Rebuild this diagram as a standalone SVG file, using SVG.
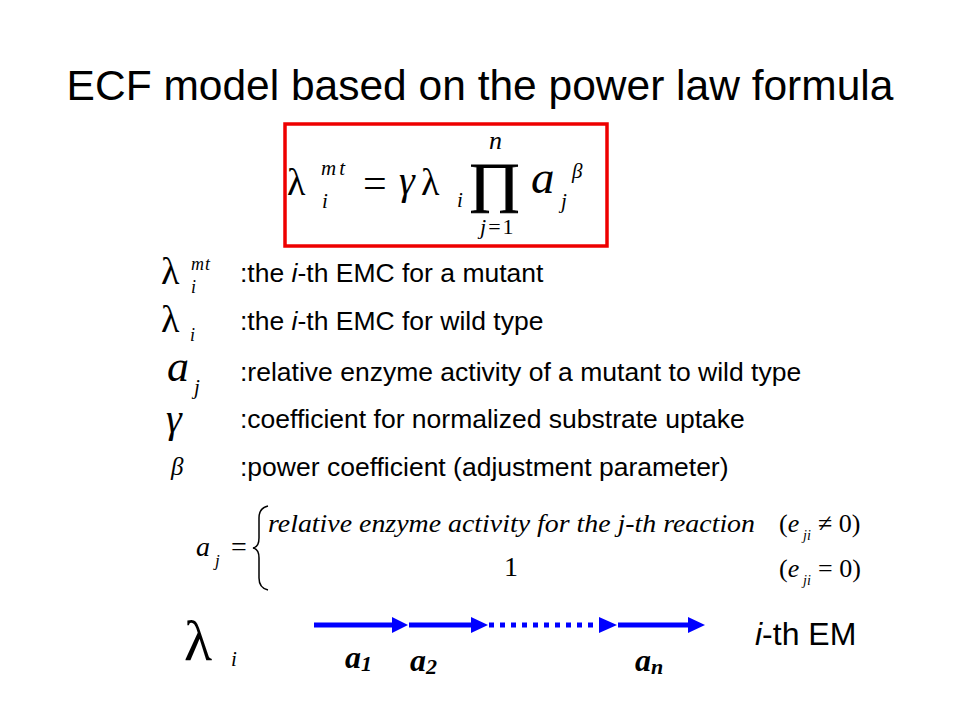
<svg xmlns="http://www.w3.org/2000/svg" width="960" height="720" viewBox="0 0 960 720">
<defs>
<style>
.sans{font-family:"Liberation Sans",Arial,sans-serif;fill:#000}
.ser{font-family:"Liberation Serif","Times New Roman",serif;fill:#000}
.it{font-style:italic}
.leg{font-size:26.5px}
.arr{stroke:#0000ff;stroke-width:5;fill:none}
.head{fill:#0000ff}
</style>
</defs>
<rect width="960" height="720" fill="#ffffff"/>
<g id="title">
<text class="sans" x="480" y="100" font-size="42.5" text-anchor="middle">ECF model based on the power law formula</text>
</g>
<g id="formula">
<rect x="285" y="124" width="322" height="122" fill="none" stroke="#ee0000" stroke-width="3.5"/>
<text class="ser" x="287" y="195" font-size="38">λ</text>
<text class="ser it" x="321" y="175" font-size="21" letter-spacing="3">mt</text>
<text class="ser it" x="322" y="208" font-size="21">i</text>
<text class="ser" x="363" y="197" font-size="42">=</text>
<text class="ser it" x="399" y="194" font-size="40">γ</text>
<text class="ser" x="421" y="195" font-size="38">λ</text>
<text class="ser it" x="457" y="207" font-size="21">i</text>
<text class="ser" transform="translate(468,201) scale(1.17,1)" font-size="55" stroke="#000" stroke-width="1">∏</text>
<text class="ser it" x="489" y="149" font-size="26">n</text>
<text class="ser" x="480" y="234" font-size="22" letter-spacing="2"><tspan class="it">j</tspan>=1</text>
<text class="ser it" x="531" y="193" font-size="47">a</text>
<text class="ser it" x="561" y="208" font-size="21">j</text>
<text class="ser it" x="572" y="178" font-size="21">β</text>
</g>
<g id="legend">
<text class="ser" x="161" y="284" font-size="38">λ</text>
<text class="ser it" x="191" y="270" font-size="18" letter-spacing="1">mt</text>
<text class="ser it" x="191" y="293" font-size="18">i</text>
<text class="sans leg" x="240" y="282">:the <tspan class="it">i</tspan>-th EMC for a mutant</text>
<text class="ser" x="161" y="332" font-size="38">λ</text>
<text class="ser it" x="190" y="341" font-size="18">i</text>
<text class="sans leg" x="240" y="330">:the <tspan class="it">i</tspan>-th EMC for wild type</text>
<text class="ser it" x="167" y="381" font-size="44">a</text>
<text class="ser it" x="194" y="394" font-size="21">j</text>
<text class="sans leg" x="240" y="381">:relative enzyme activity of a mutant to wild type</text>
<text class="ser it" x="166" y="432" font-size="40">γ</text>
<text class="sans leg" x="240" y="428">:coefficient for normalized substrate uptake</text>
<text class="ser it" x="171" y="475" font-size="25">β</text>
<text class="sans leg" x="240" y="476">:power coefficient (adjustment parameter)</text>
</g>
<g id="piecewise">
<text class="ser it" x="196" y="556" font-size="28">a</text>
<text class="ser it" x="215" y="566" font-size="17">j</text>
<text class="ser" x="231" y="556" font-size="28">=</text>
<path d="M268,506 Q259,508 259,518 L259,538 Q259,547 253,548 Q259,549 259,558 L259,578 Q259,588 268,590" fill="none" stroke="#000" stroke-width="1.5"/>
<text class="ser it" x="268" y="532" font-size="26" textLength="487" lengthAdjust="spacingAndGlyphs">relative enzyme activity for the j-th reaction</text>
<text class="ser" x="504" y="576" font-size="28">1</text>
<text class="ser" x="779" y="532" font-size="26">(<tspan class="it">e</tspan></text>
<text class="ser it" x="803" y="540" font-size="14">ji</text>
<text class="ser" x="818" y="532" font-size="26">≠ 0)</text>
<text class="ser" x="779" y="577" font-size="26">(<tspan class="it">e</tspan></text>
<text class="ser it" x="803" y="585" font-size="14">ji</text>
<text class="ser" x="818" y="577" font-size="26">= 0)</text>
</g>
<g id="pathway-label">
<text class="ser" x="184" y="660" font-size="58">λ</text>
<text class="ser it" x="231" y="666" font-size="21">i</text>
</g>
<g id="connectors">
<line class="arr" x1="314" y1="625" x2="393" y2="625"/>
<polygon class="head" points="392,617 408,625 392,633"/>
<line class="arr" x1="409" y1="625" x2="472" y2="625"/>
<polygon class="head" points="471,617 488,625 471,633"/>
<line class="arr" x1="489" y1="625" x2="598" y2="625" stroke-dasharray="5,6"/>
<polygon class="head" points="599,617 617,625 599,633"/>
<line class="arr" x1="618" y1="625" x2="689" y2="625"/>
<polygon class="head" points="688,617 705,625 688,633"/>
</g>
<g id="labels">
<text class="ser it" x="345" y="668" font-size="32" font-weight="bold">a<tspan font-size="22" dy="3">1</tspan></text>
<text class="ser it" x="410" y="671" font-size="32" font-weight="bold">a<tspan font-size="22" dy="3">2</tspan></text>
<text class="ser it" x="635" y="671" font-size="32" font-weight="bold">a<tspan font-size="22" dy="3">n</tspan></text>
<text class="sans" x="755" y="645" font-size="32"><tspan class="it">i</tspan>-th EM</text>
</g>
</svg>
